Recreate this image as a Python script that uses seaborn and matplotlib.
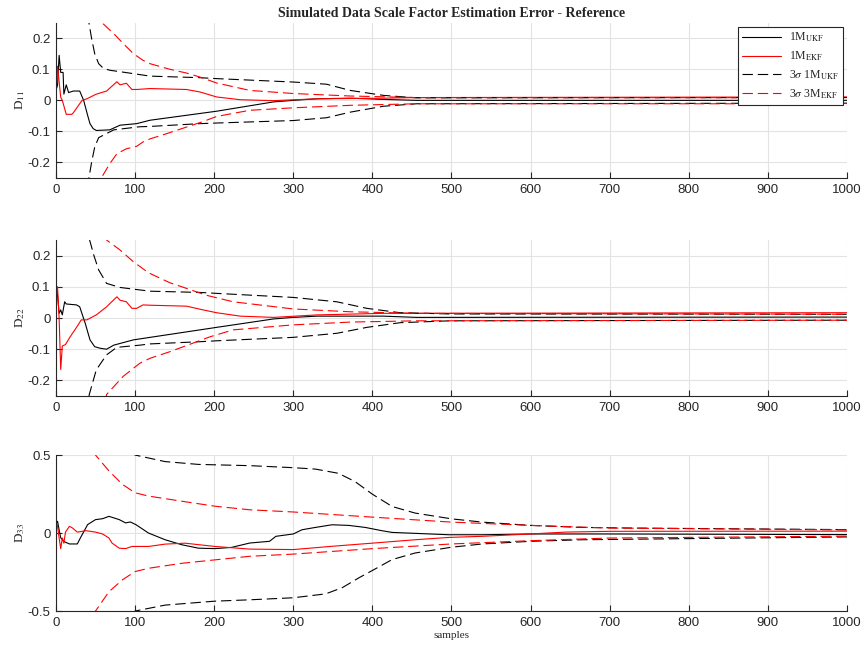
import matplotlib
matplotlib.use("Agg")
import matplotlib.pyplot as plt
import seaborn as sns

# ---- D11 ----
d11_ukf_x = [1, 2, 4, 6, 9, 10, 13, 16, 22, 30, 35, 40, 43, 47, 51, 68, 81, 102, 119, 203, 275, 300, 330, 372, 414, 456, 1000]
d11_ukf_y = [0.04, 0.05, 0.145, 0.09, 0.09, 0.02, 0.05, 0.025, 0.03, 0.03, 0.0, -0.048, -0.075, -0.091, -0.097, -0.095, -0.08, -0.075, -0.064, -0.035, -0.005, 0.0, 0.005, 0.007, 0.003, 0.0, 0.0]
d11_ekf_x = [1, 2, 4, 6, 8, 13, 20, 22, 33, 39, 51, 64, 77, 81, 89, 96, 102, 119, 165, 182, 203, 233, 275, 330, 414, 456, 1000]
d11_ekf_y = [0.055, 0.11, 0.06, 0.01, 0.0, -0.045, -0.045, -0.04, 0.0, 0.005, 0.02, 0.03, 0.06, 0.05, 0.055, 0.035, 0.035, 0.038, 0.035, 0.027, 0.011, 0.002, -0.001, 0.005, 0.007, 0.009, 0.011]
d11_ukf_hi_x = [38, 41, 45, 49, 54, 60, 68, 98, 119, 182, 203, 300, 342, 372, 414, 456, 1000]
d11_ukf_hi_y = [0.33, 0.26, 0.2, 0.15, 0.118, 0.103, 0.097, 0.086, 0.078, 0.073, 0.07, 0.059, 0.052, 0.032, 0.016, 0.008, 0.009]
d11_ukf_lo_x = [38, 41, 45, 49, 54, 64, 73, 106, 119, 182, 203, 300, 342, 372, 414, 456, 1000]
d11_ukf_lo_y = [-0.33, -0.26, -0.2, -0.15, -0.12, -0.107, -0.095, -0.085, -0.084, -0.075, -0.073, -0.065, -0.056, -0.038, -0.019, -0.011, -0.009]
d11_ekf_hi_x = [52, 55, 64, 73, 85, 98, 110, 119, 144, 165, 182, 203, 245, 300, 372, 456, 1000]
d11_ekf_hi_y = [0.29, 0.258, 0.236, 0.215, 0.183, 0.15, 0.129, 0.118, 0.1, 0.088, 0.075, 0.056, 0.032, 0.022, 0.014, 0.009, 0.0085]
d11_ekf_lo_x = [54, 58, 68, 77, 89, 102, 110, 119, 139, 165, 184, 203, 245, 300, 372, 456, 1000]
d11_ekf_lo_y = [-0.29, -0.247, -0.204, -0.172, -0.156, -0.148, -0.134, -0.124, -0.108, -0.086, -0.07, -0.052, -0.032, -0.024, -0.016, -0.011, -0.011]

# ---- D22 ----
d22_ukf_x = [1, 4, 6, 8, 11, 13, 26, 30, 37, 43, 49, 56, 64, 73, 98, 119, 182, 203, 275, 300, 330, 414, 456, 1000]
d22_ukf_y = [0.1, 0.015, 0.026, 0.01, 0.052, 0.045, 0.042, 0.036, -0.017, -0.07, -0.092, -0.097, -0.1, -0.087, -0.07, -0.062, -0.038, -0.03, -0.003, 0.002, 0.006, 0.006, 0.002, 0.003]
d22_ekf_x = [1, 2, 4, 6, 8, 12, 18, 26, 32, 39, 51, 64, 77, 81, 89, 96, 102, 110, 119, 165, 186, 203, 233, 275, 330, 414, 1000]
d22_ekf_y = [0.1, 0.1, 0.0, -0.165, -0.09, -0.085, -0.06, -0.03, -0.006, -0.006, 0.01, 0.036, 0.068, 0.057, 0.052, 0.031, 0.031, 0.042, 0.041, 0.038, 0.026, 0.017, 0.006, 0.002, 0.01, 0.015, 0.017]
d22_ukf_hi_x = [40, 42, 48, 54, 64, 81, 106, 119, 182, 203, 300, 355, 393, 435, 498, 1000]
d22_ukf_hi_y = [0.3, 0.255, 0.2, 0.154, 0.111, 0.098, 0.09, 0.086, 0.082, 0.079, 0.066, 0.052, 0.031, 0.017, 0.013, 0.012]
d22_ukf_lo_x = [40, 42, 51, 64, 77, 106, 119, 182, 203, 300, 355, 393, 435, 498, 1000]
d22_ukf_lo_y = [-0.3, -0.246, -0.166, -0.118, -0.094, -0.087, -0.083, -0.076, -0.073, -0.062, -0.049, -0.03, -0.015, -0.009, -0.007]
d22_ekf_hi_x = [62, 64, 81, 98, 117, 144, 165, 190, 224, 300, 372, 456, 1000]
d22_ekf_hi_y = [0.27, 0.25, 0.218, 0.18, 0.145, 0.113, 0.095, 0.073, 0.052, 0.029, 0.02, 0.015, 0.012]
d22_ekf_lo_x = [62, 64, 85, 106, 119, 144, 195, 224, 300, 372, 456, 1000]
d22_ekf_lo_y = [-0.27, -0.245, -0.187, -0.145, -0.129, -0.108, -0.06, -0.038, -0.022, -0.013, -0.009, -0.007]

# ---- D33 ----
d33_ukf_x = [1, 2, 4, 6, 10, 17, 27, 31, 40, 50, 59, 67, 80, 88, 94, 101, 117, 138, 159, 180, 201, 222, 245, 270, 278, 300, 311, 328, 349, 370, 391, 412, 425, 454, 497, 539, 600, 700, 1000]
d33_ukf_y = [0.065, 0.075, 0.02, -0.03, -0.054, -0.07, -0.07, -0.03, 0.054, 0.086, 0.092, 0.107, 0.086, 0.065, 0.071, 0.054, 0.0, -0.043, -0.075, -0.097, -0.1, -0.092, -0.064, -0.053, -0.021, -0.006, 0.021, 0.036, 0.053, 0.049, 0.036, 0.015, 0.004, -0.002, -0.011, -0.011, -0.006, -0.006, -0.01]
d33_ekf_x = [1, 2, 4, 6, 8, 10, 12, 17, 21, 27, 38, 50, 59, 67, 71, 80, 88, 96, 117, 138, 163, 201, 245, 300, 349, 412, 454, 497, 539, 600, 644, 700, 1000]
d33_ekf_y = [0.065, 0.043, -0.032, -0.1, -0.032, -0.065, 0.006, 0.043, 0.032, 0.006, 0.015, 0.006, -0.006, -0.032, -0.065, -0.097, -0.1, -0.086, -0.086, -0.071, -0.065, -0.086, -0.103, -0.106, -0.085, -0.06, -0.043, -0.028, -0.021, -0.006, 0.006, 0.011, 0.012]
d33_ukf_hi_x = [95, 100, 138, 180, 245, 300, 328, 357, 378, 400, 425, 454, 500, 539, 600, 665, 728, 1000]
d33_ukf_hi_y = [0.52, 0.5, 0.458, 0.44, 0.432, 0.419, 0.41, 0.383, 0.33, 0.249, 0.17, 0.128, 0.091, 0.07, 0.049, 0.036, 0.032, 0.022]
d33_ukf_lo_x = [95, 100, 138, 200, 245, 300, 341, 362, 383, 400, 425, 454, 500, 539, 600, 665, 1000]
d33_ukf_lo_y = [-0.52, -0.5, -0.462, -0.437, -0.428, -0.415, -0.39, -0.35, -0.287, -0.24, -0.17, -0.128, -0.091, -0.07, -0.053, -0.043, -0.025]
d33_ekf_hi_x = [48, 50, 67, 84, 100, 117, 159, 201, 245, 300, 400, 500, 600, 700, 1000]
d33_ekf_hi_y = [0.53, 0.5, 0.398, 0.312, 0.258, 0.237, 0.204, 0.172, 0.149, 0.135, 0.102, 0.07, 0.049, 0.032, 0.02]
d33_ekf_lo_x = [48, 50, 67, 84, 100, 117, 159, 201, 245, 300, 400, 500, 600, 700, 1000]
d33_ekf_lo_y = [-0.53, -0.5, -0.376, -0.3, -0.247, -0.226, -0.194, -0.172, -0.149, -0.135, -0.1, -0.07, -0.049, -0.032, -0.02]

panel_labels = [r"D$_{11}$", r"D$_{22}$", r"D$_{33}$"]
panel_ylims = [(-0.25, 0.25), (-0.25, 0.25), (-0.5, 0.5)]
panel_yticks = [[-0.2, -0.1, 0, 0.1, 0.2], [-0.2, -0.1, 0, 0.1, 0.2], [-0.5, 0, 0.5]]
x_ticks = [0, 100, 200, 300, 400, 500, 600, 700, 800, 900, 1000]
legend_labels = [r"1M$_{\mathrm{UKF}}$", r"1M$_{\mathrm{EKF}}$",
                 r"3$\sigma$ 1M$_{\mathrm{UKF}}$", r"3$\sigma$ 3M$_{\mathrm{EKF}}$"]

panels = [
    (d11_ukf_x, d11_ukf_y, d11_ekf_x, d11_ekf_y,
     d11_ukf_hi_x, d11_ukf_hi_y, d11_ukf_lo_x, d11_ukf_lo_y,
     d11_ekf_hi_x, d11_ekf_hi_y, d11_ekf_lo_x, d11_ekf_lo_y),
    (d22_ukf_x, d22_ukf_y, d22_ekf_x, d22_ekf_y,
     d22_ukf_hi_x, d22_ukf_hi_y, d22_ukf_lo_x, d22_ukf_lo_y,
     d22_ekf_hi_x, d22_ekf_hi_y, d22_ekf_lo_x, d22_ekf_lo_y),
    (d33_ukf_x, d33_ukf_y, d33_ekf_x, d33_ekf_y,
     d33_ukf_hi_x, d33_ukf_hi_y, d33_ukf_lo_x, d33_ukf_lo_y,
     d33_ekf_hi_x, d33_ekf_hi_y, d33_ekf_lo_x, d33_ekf_lo_y),
]

sns.set_theme(style="whitegrid")
plt.rcParams.update({
    "font.family": ["Liberation Sans", "DejaVu Sans"],
    "mathtext.fontset": "stix",
    "lines.scale_dashes": False,
    "grid.color": "#e3e3e3",
    "grid.linewidth": 0.8,
    "axes.edgecolor": "#262626",
    "axes.linewidth": 0.8,
    "xtick.color": "#262626",
    "ytick.color": "#262626",
    "xtick.direction": "in",
    "ytick.direction": "in",
})

serif = ["Liberation Serif", "DejaVu Serif"]
dash = (0, (7.5, 3.5))
lw = 0.8

fig = plt.figure(figsize=(8.65, 6.51), dpi=100)
boxes = [(0.0647, 0.7266, 0.9145, 0.2385),
         (0.0647, 0.3917, 0.9145, 0.2396),
         (0.0647, 0.0614, 0.9145, 0.2396)]

for i, (box, data) in enumerate(zip(boxes, panels)):
    ax = fig.add_axes(box)
    (ux, uy, ex, ey, uhx, uhy, ulx, uly, ehx, ehy, elx, ely) = data
    sns.lineplot(x=ux, y=uy, ax=ax, color="black", lw=lw, sort=False,
                 estimator=None, label=legend_labels[0])
    sns.lineplot(x=ex, y=ey, ax=ax, color="red", lw=lw, sort=False,
                 estimator=None, label=legend_labels[1])
    sns.lineplot(x=uhx, y=uhy, ax=ax, color="black", lw=lw, linestyle=dash,
                 sort=False, estimator=None, label=legend_labels[2])
    sns.lineplot(x=ulx, y=uly, ax=ax, color="black", lw=lw, linestyle=dash,
                 sort=False, estimator=None)
    sns.lineplot(x=ehx, y=ehy, ax=ax, color="red", lw=lw, linestyle=dash,
                 sort=False, estimator=None, label=legend_labels[3])
    sns.lineplot(x=elx, y=ely, ax=ax, color="red", lw=lw, linestyle=dash,
                 sort=False, estimator=None)

    ax.set_xlim(0, 1000)
    ax.set_ylim(*panel_ylims[i])
    ax.set_xticks(x_ticks)
    ax.set_yticks(panel_yticks[i])
    ax.set_yticklabels([f"{t:g}" for t in panel_yticks[i]])
    ax.tick_params(axis="both", labelsize=9.5, length=4, width=0.8,
                   bottom=True, left=True, pad=4)
    for side in ("top", "right"):
        ax.spines[side].set_visible(False)
    ax.set_ylabel(panel_labels[i], family=serif, fontsize=9.5)
    ax.yaxis.set_label_coords(-0.037, 0.5)

    if i == 0:
        leg = ax.legend(loc="upper right", prop={"family": serif, "size": 8.5},
                        frameon=True, fancybox=False, edgecolor="#262626",
                        framealpha=1.0, borderaxespad=0.35, handlelength=3.3,
                        labelspacing=0.45, borderpad=0.35, handletextpad=0.7)
        leg.get_frame().set_linewidth(0.8)
        ax.set_title("Simulated Data Scale Factor Estimation Error - Reference",
                     family=serif, fontsize=10, fontweight="bold", pad=4)
    else:
        ax.get_legend().remove()
    if i == 2:
        ax.set_xlabel("samples", family=serif, fontsize=8, labelpad=2)
    else:
        ax.set_xlabel("")

fig.savefig("out.png", dpi=100)
